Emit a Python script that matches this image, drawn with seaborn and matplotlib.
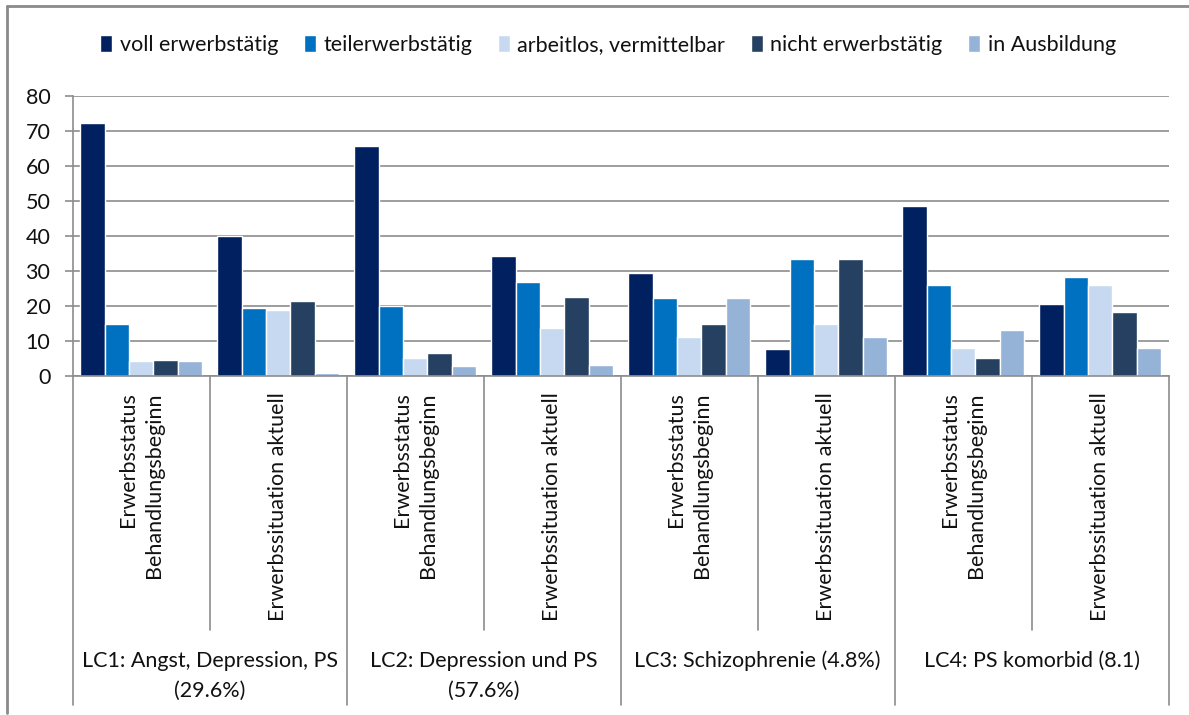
import matplotlib
matplotlib.use("Agg")
import matplotlib.pyplot as plt
from matplotlib.lines import Line2D
from matplotlib.transforms import blended_transform_factory
import seaborn as sns
import pandas as pd

# --- data -----------------------------------------------------------------
groups = [
    ["LC1: Angst, Depression, PS", "(29.6%)"],
    ["LC2: Depression und PS", "(57.6%)"],
    ["LC3: Schizophrenie (4.8%)"],
    ["LC4: PS komorbid (8.1)"],
]
sub_labels = ["Erwerbsstatus\nBehandlungsbeginn", "Erwerbssituation aktuell"]
series_names = ["voll erwerbstätig", "teilerwerbstätig", "arbeitlos, vermittelbar",
                "nicht erwerbstätig", "in Ausbildung"]

voll = [72.4, 40.0, 65.7, 34.2, 29.5, 7.5, 48.4, 20.6]
teil = [14.7, 19.3, 20.0, 26.9, 22.1, 33.5, 25.8, 28.3]
arbeitslos = [4.1, 18.8, 5.2, 13.7, 11.2, 14.8, 7.8, 25.8]
nicht = [4.5, 21.4, 6.4, 22.4, 14.8, 33.5, 5.2, 18.1]
ausbildung = [4.1, 0.9, 2.7, 3.1, 22.1, 11.2, 13.1, 7.8]

colors = ["#002060", "#0070C0", "#C6D9F1", "#254061", "#95B3D7"]
yticks = [0, 10, 20, 30, 40, 50, 60, 70, 80]

# --- long-form table --------------------------------------------------------
cat_keys = [f"G{g}S{s}" for g in range(len(groups)) for s in range(len(sub_labels))]
rows = []
for name, vals in zip(series_names, [voll, teil, arbeitslos, nicht, ausbildung]):
    for key, v in zip(cat_keys, vals):
        rows.append({"cat": key, "status": name, "wert": v})
df = pd.DataFrame(rows)

# --- figure -----------------------------------------------------------------
sns.set_theme(style="white")
plt.rcParams["font.family"] = ["Lato", "DejaVu Sans"]
text_color = "#111111"
grid_color = "#8c8c8c"
fs = 15.5

W, H = 1189, 715
fig = plt.figure(figsize=(W / 100, H / 100), dpi=100)
fig.patch.set_facecolor("white")

left_px, right_px, top_px, base_px = 72.7, 1168.7, 96.0, 375.7
ax = fig.add_axes([left_px / W, 1 - base_px / H, (right_px - left_px) / W, (base_px - top_px) / H])

sns.barplot(data=df, x="cat", y="wert", hue="status", order=cat_keys,
            hue_order=series_names, palette=colors, saturation=1, width=0.89,
            errorbar=None, ax=ax, legend=True)

ax.set_xlim(-0.5, len(cat_keys) - 0.5)
ax.set_ylim(0, 80)
ax.set_yticks(yticks)
ax.set_yticklabels([str(t) for t in yticks], fontsize=fs, color=text_color)
ax.set_xticks([])
ax.set_xlabel("")
ax.set_ylabel("")

ax.yaxis.grid(True, color=grid_color, linewidth=1.2)
ax.set_axisbelow(True)
for side in ["top", "right"]:
    ax.spines[side].set_visible(False)
for side in ["left", "bottom"]:
    ax.spines[side].set_color(grid_color)
    ax.spines[side].set_linewidth(1.2)
ax.tick_params(axis="y", which="major", direction="out", length=6, width=1.2,
               color=grid_color, pad=10, left=True)

# --- legend across the top --------------------------------------------------
handles, labels = ax.get_legend_handles_labels()
ax.get_legend().remove()
fig.legend(handles, labels, loc="center", bbox_to_anchor=(608 / W, 1 - 45 / H),
           ncol=5, frameon=False, fontsize=fs, handlelength=0.55, handleheight=0.8,
           handletextpad=0.35, columnspacing=1.2, labelcolor=text_color)

# --- two-level category axis -----------------------------------------------
trans = blended_transform_factory(ax.transData, fig.transFigure)


def fy(px):
    return 1 - px / H


# rotated sub-category labels
for i, key in enumerate(cat_keys):
    lab = sub_labels[i % len(sub_labels)]
    fig.text(i, fy(392), lab, transform=trans, rotation=90, ha="center", va="top",
             multialignment="right", fontsize=fs, color=text_color, linespacing=1.4)

# group labels
for g, lines in enumerate(groups):
    xc = 2 * g + 0.5
    for j, line in enumerate(lines):
        fig.text(xc, fy(661 + 30 * j), line, transform=trans, ha="center", va="center",
                 fontsize=fs, color=text_color)

# separators below the axis
for k in range(len(groups)):
    x = 2 * k + 0.5
    fig.add_artist(Line2D([x, x], [fy(base_px), fy(630)], transform=trans,
                          color=grid_color, linewidth=1.2))
for k in range(len(groups) + 1):
    x = 2 * k - 0.5
    fig.add_artist(Line2D([x, x], [fy(base_px), fy(705)], transform=trans,
                          color=grid_color, linewidth=1.2))

# chart-area frame (top and left edge)
fig.add_artist(Line2D([7 / W, 1], [fy(6), fy(6)], transform=fig.transFigure,
                      color="#8a8a8a", linewidth=2))
fig.add_artist(Line2D([7 / W, 7 / W], [fy(6), fy(713)], transform=fig.transFigure,
                      color="#8a8a8a", linewidth=2))

fig.savefig("out.png", dpi=100, facecolor="white")
